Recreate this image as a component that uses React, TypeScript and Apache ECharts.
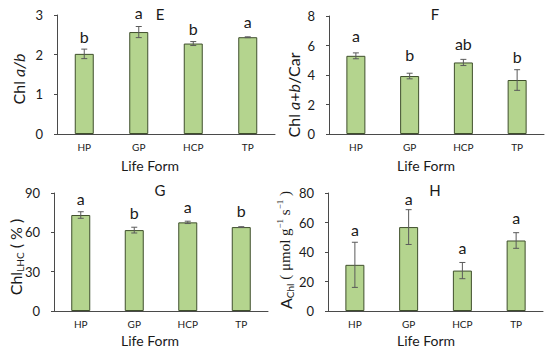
import React, { useEffect, useRef } from 'react';
import * as echarts from 'echarts';

const categories = ['HP', 'GP', 'HCP', 'TP'];

// Panel E: Chl a/b
const chlAB = [2.02, 2.57, 2.28, 2.44];
const errAB = [0.12, 0.14, 0.05, 0.01];
const lettersAB = ['b', 'a', 'b', 'a'];
const letterYAB = [2.47, 3.06, 2.67, 2.83];

// Panel F: Chl a+b/Car
const chlCar = [5.3, 3.93, 4.85, 3.66];
const errCar = [0.2, 0.19, 0.21, 0.7];
const lettersCar = ['a', 'b', 'ab', 'b'];
const letterYCar = [6.7, 5.42, 6.13, 5.28];

// Panel G: Chl LHC (%)
const chlLHC = [73.2, 61.7, 67.6, 64.0];
const errLHC = [2.5, 2.2, 0.9, 0.3];
const lettersLHC = ['a', 'b', 'a', 'b'];
const letterYLHC = [85.7, 75.5, 79.8, 76.5];

// Panel H: A_Chl
const aChl = [31.3, 56.9, 27.4, 47.8];
const errAChl = [15.3, 11.8, 5.5, 5.3];
const lettersAChl = ['a', 'a', 'a', 'a'];
const letterYAChl = [55.1, 76.1, 43.1, 63.5];

const yMax = [3, 8, 90, 80];
const yInterval = [1, 2, 30, 20];
const panelNames = ['E', 'F', 'G', 'H'];

const FONT = 'Lato, "Open Sans", sans-serif';
const BAR_FILL = '#b4d48e';
const BAR_BORDER = '#3f4f2c';
const AXIS_COLOR = '#4a4a4a';
const TEXT_COLOR = '#1a1a1a';

const grids = [
  { left: 57, top: 15, width: 218, height: 119 },
  { left: 329, top: 16, width: 215, height: 118 },
  { left: 54, top: 193, width: 214, height: 118 },
  { left: 328, top: 193, width: 215, height: 118 },
];

const panels = [
  { v: chlAB, e: errAB, l: lettersAB, ly: letterYAB },
  { v: chlCar, e: errCar, l: lettersCar, ly: letterYCar },
  { v: chlLHC, e: errLHC, l: lettersLHC, ly: letterYLHC },
  { v: aChl, e: errAChl, l: lettersAChl, ly: letterYAChl },
];

function buildOption() {
  const xAxis: any[] = [];
  const yAxis: any[] = [];
  const series: any[] = [];
  panels.forEach((p, i) => {
    xAxis.push({
      type: 'category',
      gridIndex: i,
      data: categories,
      axisLine: { lineStyle: { color: AXIS_COLOR, width: 1 } },
      axisTick: { show: false },
      axisLabel: { color: TEXT_COLOR, fontSize: 10, margin: 8, fontFamily: FONT },
    });
    yAxis.push({
      type: 'value',
      gridIndex: i,
      min: 0,
      max: yMax[i],
      interval: yInterval[i],
      splitLine: { show: false },
      axisLine: { show: true, lineStyle: { color: AXIS_COLOR, width: 1 } },
      axisTick: { show: true, length: 3, lineStyle: { color: AXIS_COLOR } },
      axisLabel: { color: TEXT_COLOR, fontSize: 13, margin: 14, fontFamily: FONT },
    });
    series.push({
      type: 'bar',
      xAxisIndex: i,
      yAxisIndex: i,
      data: p.v,
      barWidth: 19,
      itemStyle: { color: BAR_FILL, borderColor: BAR_BORDER, borderWidth: 1 },
    });
    series.push({
      type: 'custom',
      xAxisIndex: i,
      yAxisIndex: i,
      z: 5,
      encode: { x: 0, y: [1, 2] },
      data: p.v.map((v, k) => [k, v - p.e[k], v + p.e[k]]),
      renderItem: (params: any, api: any) => {
        const x = api.value(0);
        const pHi = api.coord([x, api.value(2)]);
        const pLo = api.coord([x, api.value(1)]);
        const w = 3;
        const st = { stroke: '#5a5a5a', lineWidth: 1 };
        return {
          type: 'group',
          children: [
            { type: 'line', shape: { x1: pHi[0], y1: pHi[1], x2: pLo[0], y2: pLo[1] }, style: st },
            { type: 'line', shape: { x1: pHi[0] - w, y1: pHi[1], x2: pHi[0] + w, y2: pHi[1] }, style: st },
            { type: 'line', shape: { x1: pLo[0] - w, y1: pLo[1], x2: pLo[0] + w, y2: pLo[1] }, style: st },
          ],
        };
      },
    });
    series.push({
      type: 'custom',
      xAxisIndex: i,
      yAxisIndex: i,
      z: 6,
      encode: { x: 0, y: 1 },
      data: p.ly.map((y, k) => [k, y]),
      renderItem: (params: any, api: any) => {
        const pt = api.coord([api.value(0), api.value(1)]);
        return {
          type: 'text',
          x: pt[0],
          y: pt[1],
          style: {
            text: p.l[params.dataIndex],
            align: 'center',
            verticalAlign: 'middle',
            fontSize: 16,
            fontFamily: FONT,
            fill: TEXT_COLOR,
          },
        };
      },
    });
  });

  const titlePos = [
    [160, 14],
    [435, 14],
    [160, 190],
    [435, 190],
  ];
  const lifePos = [
    [150, 165],
    [426, 165],
    [150, 340],
    [426, 340],
  ];

  const graphic: any[] = [];
  panelNames.forEach((n, i) => {
    graphic.push({
      type: 'text',
      x: titlePos[i][0],
      y: titlePos[i][1],
      style: { text: n, align: 'center', verticalAlign: 'middle', fontSize: 15, fontFamily: FONT, fill: TEXT_COLOR },
    });
    graphic.push({
      type: 'text',
      x: lifePos[i][0],
      y: lifePos[i][1],
      style: { text: 'Life Form', align: 'center', verticalAlign: 'middle', fontSize: 14, fontFamily: FONT, fill: TEXT_COLOR },
    });
  });

  const rich = {
    n: { fontSize: 16, fontFamily: FONT, color: TEXT_COLOR, lineHeight: 20 },
    i: { fontSize: 16, fontFamily: FONT, fontStyle: 'italic', color: TEXT_COLOR, lineHeight: 20 },
    sub: { fontSize: 10, fontFamily: FONT, color: TEXT_COLOR, verticalAlign: 'bottom', lineHeight: 20, padding: [6, 0, 0, 0] },
    s: { fontSize: 15, fontFamily: '"Liberation Serif", serif', color: TEXT_COLOR, lineHeight: 20 },
    sup: { fontSize: 9, fontFamily: '"Liberation Serif", serif', color: TEXT_COLOR, verticalAlign: 'top', lineHeight: 20, padding: [0, 0, 8, 0] },
  };

  const yTitles = [
    { x: 18, y: 79, text: '{n|Chl }{i|a/b}' },
    { x: 293, y: 95, text: '{n|Chl }{i|a}{n|+}{i|b}{n|/Car}' },
    { x: 15, y: 257, text: '{n|Chl}{sub|LHC}{n| ( % )}' },
    { x: 285, y: 250, text: '{n|A}{sub|Chl}{s| ( μmol g}{sup|−1}{s| s}{sup|−1}{s| )}' },
  ];
  yTitles.forEach((t) => {
    graphic.push({
      type: 'text',
      x: t.x,
      y: t.y,
      rotation: Math.PI / 2,
      style: { text: t.text, rich, align: 'center', verticalAlign: 'middle', fill: TEXT_COLOR },
    });
  });

  return {
    animation: false,
    backgroundColor: '#ffffff',
    grid: grids,
    xAxis,
    yAxis,
    series,
    graphic,
  };
}

export default function App() {
  const ref = useRef<HTMLDivElement>(null);
  useEffect(() => {
    if (!ref.current) return;
    const chart = echarts.init(ref.current, null, { renderer: 'svg' });
    chart.setOption(buildOption() as any);
    return () => chart.dispose();
  }, []);
  return <div ref={ref} style={{ width: 550, height: 350, position: 'absolute', left: 0, top: 0 }} />;
}
